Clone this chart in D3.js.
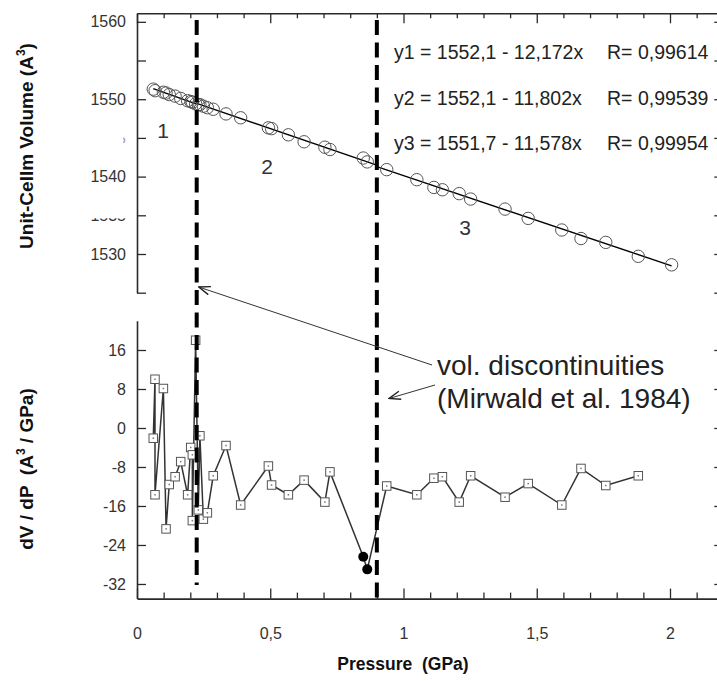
<!DOCTYPE html>
<html><head><meta charset="utf-8">
<script src="https://cdn.jsdelivr.net/npm/d3@7"></script>
<style>body{margin:0;background:#fff;} svg{display:block;font-family:"Liberation Sans",Arial,sans-serif;}</style>
</head><body>
<svg id="chart" width="717" height="681"></svg>
<script>
// ---- data ----
const pressureTop = [0.061,0.068,0.099,0.109,0.121,0.143,0.164,0.190,0.202,0.208,0.220,0.230,0.236,0.249,0.264,0.286,0.334,0.389,0.493,0.505,0.568,0.627,0.705,0.724,0.849,0.864,0.937,1.050,1.114,1.146,1.209,1.252,1.381,1.468,1.594,1.666,1.759,1.881,2.006];
const volumeTop = [1551.3,1551.1,1550.9,1550.8,1550.6,1550.4,1550.1,1549.8,1549.7,1549.6,1549.4,1549.3,1549.3,1549.1,1548.9,1548.7,1548.1,1547.6,1546.3,1546.2,1545.4,1544.5,1543.8,1543.5,1542.4,1541.9,1540.9,1539.6,1538.6,1538.3,1537.8,1537.1,1535.8,1534.6,1533.1,1532.0,1531.5,1529.7,1528.6];

const pressureDeriv = [0.061,0.0675,0.0675,0.099,0.109,0.121,0.143,0.164,0.190,0.2015,0.2077,0.2077,0.220,0.230,0.236,0.249,0.264,0.286,0.334,0.389,0.493,0.505,0.568,0.627,0.705,0.724,0.937,1.050,1.114,1.146,1.209,1.252,1.381,1.468,1.594,1.666,1.759,1.881];
const dVdP = [-2.1,10.0,-13.7,8.1,-20.7,-11.6,-10.0,-6.9,-13.7,-4.0,-5.5,-19.0,18.0,-16.8,-1.6,-18.7,-17.4,-9.8,-3.6,-15.8,-7.8,-11.7,-13.7,-10.7,-15.2,-9.0,-11.9,-13.7,-10.3,-10.0,-15.2,-9.8,-14.2,-11.4,-15.8,-8.3,-11.8,-9.8];
const pressureAnom = [0.849,0.864];
const dVdPAnom = [-26.4,-29.0];

const fitIntercept = [1552.1,1552.1,1551.7];
const fitSlope = [12.172,11.802,11.578];
const fitR = ["0,99614","0,99539","0,99954"];
const fitFrom = [0.061,0.224,0.9];
const fitTo = [0.224,0.9,2.006];
const segmentLabels = ["1","2","3"];
const segmentLabelP = [0.098,0.488,1.231];
const segmentLabelV = [1545.0,1540.3,1532.5];

const discontinuityP = [0.224,0.9];

const xTickValues = [0,0.5,1,1.5,2];
const xTickLabels = ["0","0,5","1","1,5","2"];
const topTickValues = [1525,1530,1535,1540,1545,1550,1555,1560];
const topTickLabels = ["1530","1540","1550","1560"];
const botTickValues = [-32,-24,-16,-8,0,8,16];
const botTickLabels = ["-32","-24","-16","-8","0","8","16"];

const annotLines = ["vol. discontinuities","(Mirwald et al. 1984)"];

// ---- scales ----
const svg = d3.select("#chart");
const x = d3.scaleLinear().domain([0,2.2]).range([137,723.3]);
const yTop = d3.scaleLinear().domain([1525,1561.1]).range([292.7,13.3]);
const yBot = d3.scaleLinear().domain([-35,22]).range([598.6,320.75]);
const axisColor = "#2a2a2a";
const fmtNum = v => String(v).replace(".", ",");

// ---- top panel axes ----
svg.append("g").attr("transform","translate(137,0)")
  .call(d3.axisLeft(yTop).tickValues(topTickValues).tickSize(-9).tickSizeOuter(0).tickPadding(11)
    .tickFormat(d => topTickLabels.includes(String(d)) ? String(d) : ""));
svg.append("g").attr("transform","translate(723.3,0)")
  .call(d3.axisRight(yTop).tickValues(topTickValues).tickSize(-9).tickSizeOuter(0).tickFormat(""));
const gTopFrame = svg.append("g").attr("transform","translate(0,13.3)")
  .call(d3.axisTop(x).tickValues(d3.range(0,23).map(i=>i/10)).tickSize(-5).tickSizeOuter(0).tickFormat(""));
gTopFrame.selectAll(".tick line").attr("y2", d => Math.abs(d*2 - Math.round(d*2))<1e-6 ? 10 : 5);

// ---- bottom panel axes ----
svg.append("g").attr("transform","translate(137,0)")
  .call(d3.axisLeft(yBot).tickValues(botTickValues).tickSize(-9).tickSizeOuter(0).tickPadding(11)
    .tickFormat((d,i) => botTickLabels[i]));
svg.append("g").attr("transform","translate(723.3,0)")
  .call(d3.axisRight(yBot).tickValues(botTickValues).tickSize(-9).tickSizeOuter(0).tickFormat(""));
const gBottom = svg.append("g").attr("transform","translate(0,598.6)")
  .call(d3.axisBottom(x).tickValues(d3.range(0,23).map(i=>i/10)).tickSize(-6).tickSizeOuter(0).tickPadding(0).tickFormat(""));
gBottom.selectAll(".tick line").attr("y2", d => Math.abs(d*2 - Math.round(d*2))<1e-6 ? -10 : -6);
gBottom.selectAll(".tick").filter(d => xTickValues.some(v=>Math.abs(v-d)<1e-6))
  .append("text").attr("y",40).attr("text-anchor","middle")
  .text(d => xTickLabels[xTickValues.findIndex(v=>Math.abs(v-d)<1e-6)]);

svg.selectAll(".domain").attr("stroke",axisColor).attr("stroke-width",1.6);
svg.selectAll(".tick line").attr("stroke",axisColor).attr("stroke-width",1.3);
svg.selectAll(".tick text").attr("fill","#333").style("font-size","16px").style("font-family","'Liberation Sans',Arial,sans-serif");

// erased label fragments
const defs = svg.append("defs");
defs.append("clipPath").attr("id","clipA").append("rect").attr("x",88).attr("y",yTop(1535)+3).attr("width",40).attr("height",4);
defs.append("clipPath").attr("id","clipB").append("rect").attr("x",123).attr("y",yTop(1545)-3).attr("width",3).attr("height",8);
svg.append("text").attr("clip-path","url(#clipA)").attr("x",126).attr("y",yTop(1535)+6).attr("text-anchor","end")
  .attr("fill","#333").style("font-size","16px").text("1535");
svg.append("text").attr("clip-path","url(#clipB)").attr("x",126).attr("y",yTop(1545)+6).attr("text-anchor","end")
  .attr("fill","#aaa").style("font-size","16px").text("1545");

// ---- top panel data ----
const topData = pressureTop.map((p,i)=>({p, v: volumeTop[i]}));
fitIntercept.forEach((a,i)=>{
  svg.append("line").attr("x1",x(fitFrom[i])).attr("x2",x(fitTo[i]))
    .attr("y1",yTop(a - fitSlope[i]*fitFrom[i])).attr("y2",yTop(a - fitSlope[i]*fitTo[i]))
    .attr("stroke","#000").attr("stroke-width",1.4);
});
svg.append("g").selectAll("circle").data(topData).join("circle")
  .attr("cx",d=>x(d.p)).attr("cy",d=>yTop(d.v)).attr("r",6.2)
  .attr("fill","none").attr("stroke","#555").attr("stroke-width",1);

// equations
fitIntercept.forEach((a,i)=>{
  const yb = [59,105,150][i];
  svg.append("text").attr("x",394).attr("y",yb).attr("fill","#222").style("font-size","19.5px")
    .text(`y${i+1} = ${fmtNum(a)} - ${fmtNum(fitSlope[i])}x`);
  svg.append("text").attr("x",607).attr("y",yb).attr("fill","#222").style("font-size","19.5px")
    .text(`R= ${fitR[i]}`);
});
segmentLabels.forEach((s,i)=>{
  svg.append("text").attr("x",x(segmentLabelP[i])).attr("y",yTop(segmentLabelV[i])).attr("text-anchor","middle")
    .attr("fill","#333").style("font-size","21px").text(s);
});

// ---- bottom panel data ----
const botSquares = pressureDeriv.map((p,i)=>({p, v:dVdP[i]}));
const botAnom = pressureAnom.map((p,i)=>({p, v:dVdPAnom[i]}));
const botAll = botSquares.concat(botAnom).sort((a,b)=>a.p-b.p);
svg.append("path").datum(botAll)
  .attr("d", d3.line().x(d=>x(d.p)).y(d=>yBot(d.v)))
  .attr("fill","none").attr("stroke","#333").attr("stroke-width",1.5);
const sq = 8.5;
const gSq = svg.append("g").selectAll("g").data(botSquares).join("g")
  .attr("transform",d=>`translate(${x(d.p)},${yBot(d.v)})`);
gSq.append("rect").attr("x",-sq/2).attr("y",-sq/2).attr("width",sq).attr("height",sq)
  .attr("fill","#fff").attr("stroke","#555").attr("stroke-width",1);
gSq.append("rect").attr("x",-0.75).attr("y",-0.75).attr("width",1.5).attr("height",1.5).attr("fill","#777");
svg.append("g").selectAll("circle").data(botAnom).join("circle")
  .attr("cx",d=>x(d.p)).attr("cy",d=>yBot(d.v)).attr("r",5).attr("fill","#000");

// ---- discontinuity dashed lines ----
const dashEnds = [yBot(-32.2), yBot(-35)];
discontinuityP.forEach((p,i)=>{
  svg.append("line").attr("x1",x(p)).attr("x2",x(p)).attr("y1",20).attr("y2",dashEnds[i])
    .attr("stroke","#000").attr("stroke-width",4).attr("stroke-dasharray","15,7.5");
});

// ---- annotation ----
const marker = defs.append("marker").attr("id","arr").attr("viewBox","0 0 13 10").attr("refX",12.5).attr("refY",5)
  .attr("markerWidth",13).attr("markerHeight",10).attr("orient","auto").attr("markerUnits","userSpaceOnUse");
marker.append("path").attr("d","M1,0.8 L12.5,5 L1,9.2").attr("fill","none").attr("stroke","#222").attr("stroke-width",1.4);
svg.append("line").attr("x1",432).attr("y1",365).attr("x2",x(discontinuityP[0])+2).attr("y2",287)
  .attr("stroke","#333").attr("stroke-width",1).attr("marker-end","url(#arr)");
svg.append("line").attr("x1",435).attr("y1",385).attr("x2",389).attr("y2",398.5)
  .attr("stroke","#333").attr("stroke-width",1).attr("marker-end","url(#arr)");
annotLines.forEach((t,i)=>{
  svg.append("text").attr("x",437).attr("y",[375,408][i]).attr("fill","#222").style("font-size","28px").text(t);
});

// ---- titles ----
const t1 = svg.append("text").attr("transform","translate(33,146) rotate(-90)").attr("text-anchor","middle")
  .attr("fill","#111").style("font-size","19px").style("font-weight","bold");
t1.append("tspan").text("Unit-Cellm Volume (A");
t1.append("tspan").attr("dy",-8).style("font-size","12px").text("3");
t1.append("tspan").attr("dy",8).text(")");
const t2 = svg.append("text").attr("transform","translate(33,469) rotate(-90)").attr("text-anchor","middle")
  .attr("fill","#111").style("font-size","19px").style("font-weight","bold").attr("xml:space","preserve");
t2.append("tspan").text("dV / dP  (A");
t2.append("tspan").attr("dy",-8).style("font-size","12px").text("3");
t2.append("tspan").attr("dy",8).text(" / GPa)");
svg.append("text").attr("x",403).attr("y",670).attr("text-anchor","middle").attr("xml:space","preserve")
  .attr("fill","#111").style("font-size","17.5px").style("font-weight","bold").text("Pressure  (GPa)");
</script>
</body></html>
